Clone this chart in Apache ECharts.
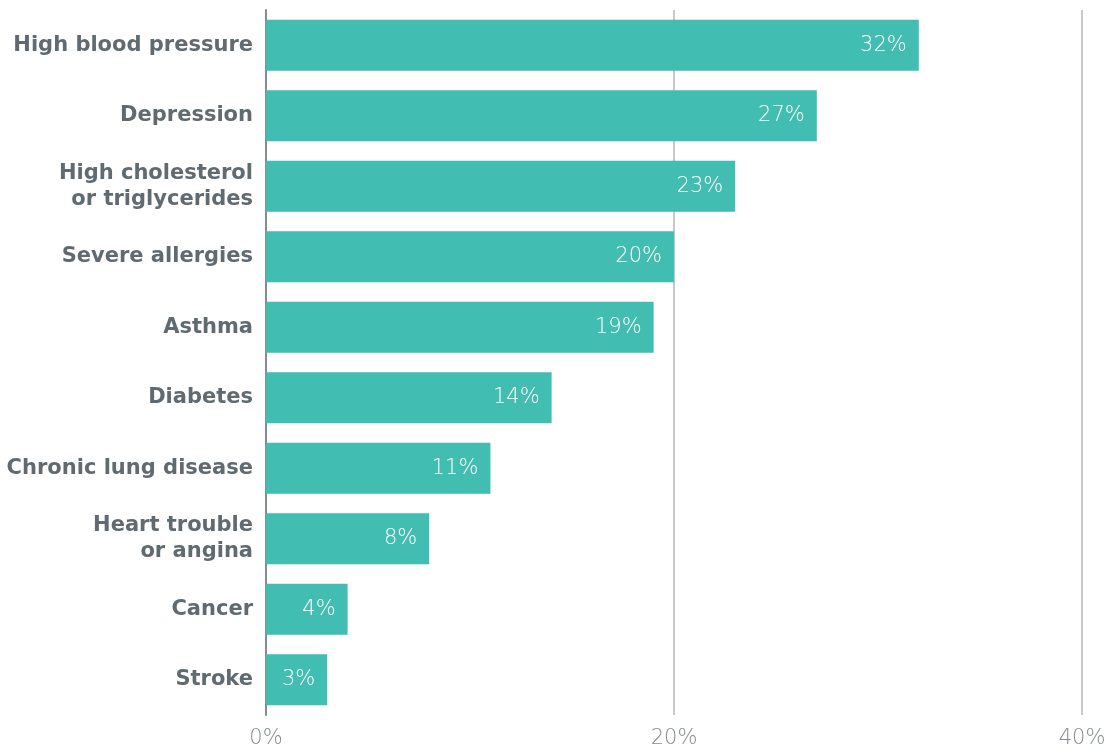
<!DOCTYPE html>
<html><head><meta charset="utf-8">
<script src="https://cdn.jsdelivr.net/npm/echarts@6/dist/echarts.min.js"></script>
<style>html,body{margin:0;padding:0;background:#fff}#c{width:1119px;height:750px}</style>
</head><body><div id="c"></div>
<script>
const categories = ["High blood pressure","Depression","High cholesterol\nor triglycerides","Severe allergies","Asthma","Diabetes","Chronic lung disease","Heart trouble\nor angina","Cancer","Stroke"];
const values = [32,27,23,20,19,14,11,8,4,3];
const xTicks = [0,20,40];

const chart = echarts.init(document.getElementById('c'));
chart.setOption({
  animation:false,
  grid:{left:266,right:37,top:10,bottom:35,containLabel:false},
  xAxis:{type:'value',min:0,max:40,interval:20,
    axisLine:{show:false},axisTick:{show:false},
    splitLine:{lineStyle:{color:'#b3b7ba',width:1.5}},
    axisLabel:{formatter:v=>v+'%',color:'#858b90',fontSize:21,fontFamily:'DejaVu Sans',fontWeight:200,margin:13}},
  yAxis:{type:'category',data:categories,inverse:true,
    axisLine:{show:true,lineStyle:{color:'#858d92',width:2}},axisTick:{show:false},
    axisLabel:{color:'#5f6a71',fontSize:21,fontWeight:'bold',fontFamily:'DejaVu Sans',margin:13,lineHeight:26,align:'right',padding:[3,0,0,0]}},
  series:[{type:'bar',data:values,barCategoryGap:'27.5%',
    itemStyle:{color:'#42bdb1'},
    label:{show:true,position:'insideRight',distance:12,formatter:p=>p.value+'%',color:'#fff',fontSize:21,fontFamily:'DejaVu Sans',fontWeight:200}}]
});
</script></body></html>
